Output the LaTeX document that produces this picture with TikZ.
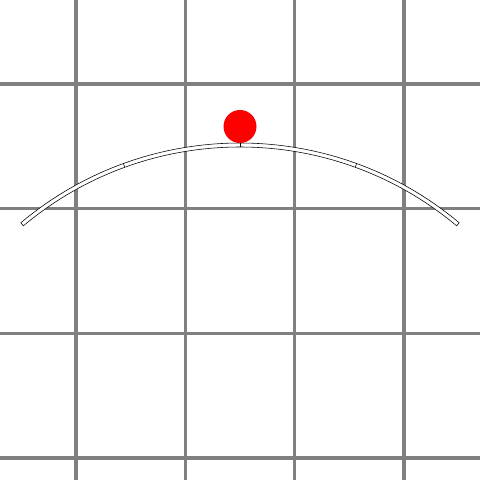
\documentclass[tikz,border=0pt]{standalone}
\begin{document}
\begin{tikzpicture}[
    gridline/.style={draw=gray, line width=2.2pt},
    track/.style={draw=black, line width=0.4pt, fill=white}]
    \useasboundingbox (0,0) rectangle (12,12);

    % 网格
    \foreach \x in {1.9, 4.633, 7.367, 10.1}
        \draw[gridline] (\x,0) -- (\x,12);
    \foreach \y in {0.55, 3.667, 6.783, 9.9}
        \draw[gridline] (0,\y) -- (12,\y);

    % 轨道
    \coordinate (O) at (6,-0.1);
    \draw[track] ([shift={(50:8.525)}]O) arc (50:130:8.525)
        -- ([shift={(130:8.425)}]O) arc (130:50:8.425) -- cycle;

    % 分段
    \foreach \a in {70, 90, 110}
        \draw[line width=0.4pt] ([shift={(\a:8.425)}]O) -- ([shift={(\a:8.525)}]O);

    % 小球
    \fill[red] ([shift={(90:8.9375)}]O) circle (0.4125);
\end{tikzpicture}
\end{document}
